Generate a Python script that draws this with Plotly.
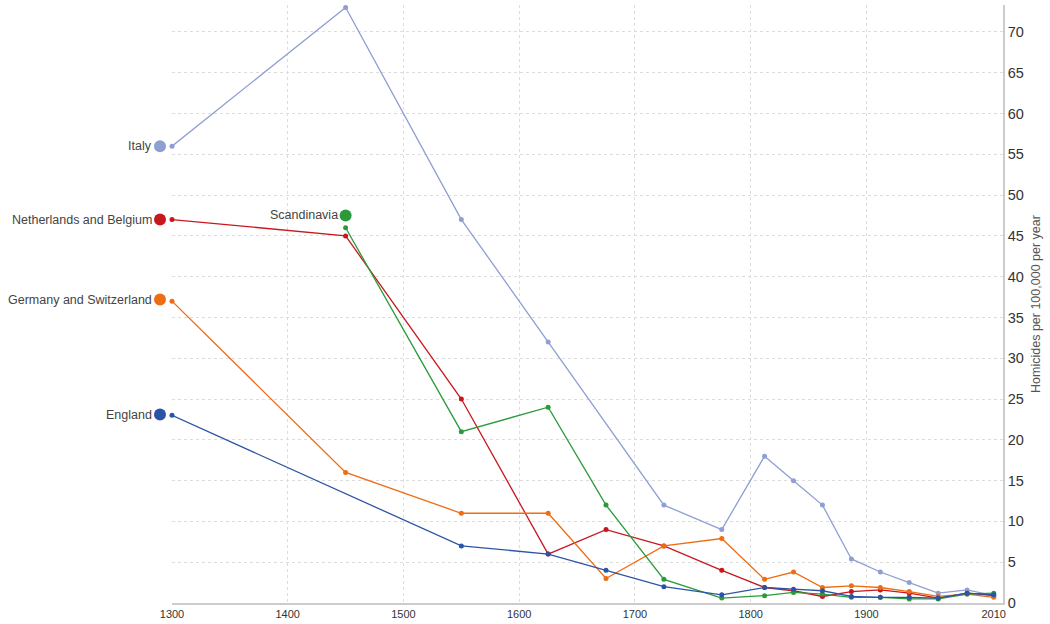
import plotly.graph_objects as go

# Homicide rates per 100,000 per year, Western Europe
years = [1300, 1450, 1550, 1625, 1675, 1725, 1775, 1812, 1837, 1862, 1887, 1912, 1937, 1962, 1987, 2010]

italy = [56, 73, 47, 32, None, 12, 9, 18, 15, 12, 5.4, 3.8, 2.5, 1.2, 1.6, 0.9]
netherlands_belgium = [47, 45, 25, 6, 9, 7, 4, 1.9, 1.5, 0.8, 1.4, 1.6, 1.2, 0.6, 1.2, 0.9]
germany_switzerland = [37, 16, 11, 11, 3, 7, 7.9, 2.9, 3.8, 1.9, 2.1, 1.9, 1.4, 0.8, 1.1, 0.7]
scandinavia = [None, 46, 21, 24, 12, 2.9, 0.6, 0.9, 1.3, 1.1, 0.7, 0.7, 0.5, 0.5, 1.1, 1.2]
england = [23, None, 7, 6, 4, 2, 1, 1.9, 1.7, 1.5, 0.8, 0.7, 0.7, 0.6, 1.2, 1.0]

series = [
    ("Italy", italy, "#8f9fd2"),
    ("Netherlands and Belgium", netherlands_belgium, "#c9171e"),
    ("Germany and Switzerland", germany_switzerland, "#ef6c12"),
    ("Scandinavia", scandinavia, "#2a9a3a"),
    ("England", england, "#2c54a5"),
]

y_ticks = list(range(0, 75, 5))
x_ticks = [1300, 1400, 1500, 1600, 1700, 1800, 1900, 2010]
x_grid = [1400, 1500, 1600, 1700, 1800, 1900]

# Label dot offset from each series' first point: (pixels left, rate units up)
label_shift = {
    "Italy": (12, 0),
    "Netherlands and Belgium": (12, 0),
    "Germany and Switzerland": (12, 0.2),
    "Scandinavia": (0, 1.5),
    "England": (12, 0.1),
}

fig = go.Figure()

for name, vals, color in series:
    xs = [x for x, v in zip(years, vals) if v is not None]
    ys = [v for v in vals if v is not None]
    fig.add_trace(go.Scatter(
        x=xs, y=ys, mode="lines+markers", name=name,
        line=dict(color=color, width=1.3),
        marker=dict(color=color, size=5),
        showlegend=False, cliponaxis=False,
    ))

x_min, x_max = 1300, 2018
label_font = dict(family="Liberation Sans, Arial, sans-serif", size=12.5, color="#444444")
for name, vals, color in series:
    i0 = next(i for i, v in enumerate(vals) if v is not None)
    px_left, dy = label_shift[name]
    x_paper = (years[i0] - x_min) / (x_max - x_min)
    y_val = vals[i0] + dy
    # dot drawn in pixel units around the anchor so it can sit left of the plot area
    fig.add_shape(
        type="circle", xref="paper", yref="y",
        xsizemode="pixel", ysizemode="pixel",
        xanchor=x_paper, yanchor=y_val,
        x0=-px_left - 6, x1=-px_left + 6, y0=-6, y1=6,
        fillcolor=color, line=dict(width=0), layer="above",
    )
    fig.add_annotation(
        xref="paper", yref="y", x=x_paper, y=y_val,
        text=name, showarrow=False, xanchor="right", yanchor="middle",
        xshift=-px_left - 6, font=label_font,
    )

fig.update_layout(
    width=1050, height=624,
    margin=dict(l=172, r=47, t=5, b=21),
    paper_bgcolor="white", plot_bgcolor="white",
    font=dict(family="Liberation Sans, Arial, sans-serif", color="#444444"),
    xaxis=dict(
        range=[x_min, x_max], tickvals=x_ticks, ticktext=[str(t) for t in x_ticks],
        showgrid=False,
        minor=dict(tickvals=x_grid, showgrid=True, gridcolor="#dddddd", griddash="dot", gridwidth=1, ticks=""),
        showline=True, linecolor="#cccccc", linewidth=1.5,
        ticks="", tickfont=dict(size=11, color="#333333"), zeroline=False,
    ),
    yaxis=dict(
        range=[0, 73.3], side="right", tickvals=y_ticks,
        showgrid=True, gridcolor="#dddddd", griddash="dot", gridwidth=1,
        showline=True, linecolor="#cccccc", linewidth=1.5,
        ticks="", tickfont=dict(size=14.5, color="#333333"), zeroline=False,
        title=dict(text="Homicides per 100,000 per year", font=dict(size=12.5, color="#555555"), standoff=8),
    ),
)

fig.write_html("out.html")
